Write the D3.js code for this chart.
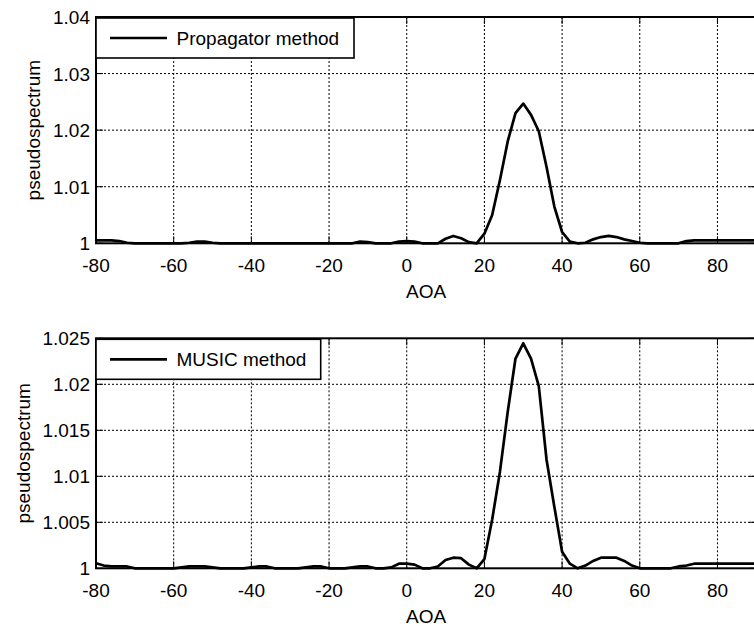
<!DOCTYPE html>
<html><head><meta charset="utf-8">
<script src="https://cdn.jsdelivr.net/npm/d3@7"></script>
<style>html,body{margin:0;padding:0;background:#fff;overflow:hidden}</style>
</head><body>
<script>
// ---- data ----
const aoa = [-80,-78,-76,-74,-72,-70,-68,-66,-64,-62,-60,-58,-56,-54,-52,-50,-48,-46,-44,-42,-40,-38,-36,-34,-32,-30,-28,-26,-24,-22,-20,-18,-16,-14,-12,-10,-8,-6,-4,-2,0,2,4,6,8,10,12,14,16,18,20,22,24,26,28,30,32,34,36,38,40,42,44,46,48,50,52,54,56,58,60,62,64,66,68,70,72,74,76,78,80,82,84,86,88,90];
const propagator = [1.0005,1.0005,1.0005,1.0004,1.0001,1.0,1.0,1.0,1.0,1.0,1.0,1.0,1.0001,1.0003,1.0003,1.0001,1.0,1.0,1.0,1.0,1.0,1.0,1.0,1.0,1.0,1.0,1.0,1.0,1.0,1.0,1.0,1.0,1.0,1.0,1.0003,1.0002,1.0,1.0,1.0,1.0003,1.0004,1.0003,1.0,1.0,1.0,1.0008,1.0013,1.0009,1.0002,1.0,1.0017,1.0050,1.0112,1.0180,1.0230,1.0247,1.0227,1.0198,1.0135,1.0065,1.0020,1.0003,1.0,1.0001,1.0007,1.0011,1.0013,1.0011,1.0007,1.0004,1.0001,1.0,1.0,1.0,1.0,1.0,1.0004,1.0005,1.0005,1.0005,1.0005,1.0005,1.0005,1.0005,1.0005,1.0005];
const music = [1.00055,1.0003,1.0002,1.0002,1.0002,1.0,1.0,1.0,1.0,1.0,1.0,1.0001,1.0002,1.0002,1.0002,1.0001,1.0,1.0,1.0,1.0,1.0001,1.0002,1.0002,1.0,1.0,1.0,1.0,1.0001,1.0002,1.0002,1.0,1.0,1.0,1.0001,1.0002,1.0002,1.0,1.0,1.0001,1.0005,1.0005,1.0004,1.0,1.0,1.0002,1.0009,1.00115,1.0011,1.0004,1.0,1.0010,1.0053,1.0105,1.0170,1.0228,1.02446,1.0228,1.0198,1.0118,1.0067,1.0018,1.0005,1.0,1.0003,1.0008,1.00115,1.00115,1.00115,1.0008,1.0003,1.0,1.0,1.0,1.0,1.0,1.0002,1.0003,1.0005,1.0005,1.0005,1.0005,1.0005,1.0005,1.0005,1.0005,1.0005];
const xTicks = [-80,-60,-40,-20,0,20,40,60,80];
const xTickLabels = ["-80","-60","-40","-20","0","20","40","60","80"];
const yTicksTop = [1,1.01,1.02,1.03,1.04];
const yTickLabelsTop = ["1","1.01","1.02","1.03","1.04"];
const yTicksBottom = [1,1.005,1.01,1.015,1.02,1.025];
const yTickLabelsBottom = ["1","1.005","1.01","1.015","1.02","1.025"];
const legendTop = "Propagator method";
const legendBottom = "MUSIC method";
const xLabel = "AOA";
const yLabel = "pseudospectrum";

// ---- drawing ----
const W = 754, H = 626;
const FONT = "'Liberation Sans', Arial, Helvetica, sans-serif";
const FS = 19;
const svg = d3.select("body").append("svg").attr("width", W).attr("height", H)
  .style("font-family", FONT);

function panel(cfg) {
  const x = d3.scaleLinear().domain([-80, 90]).range([cfg.left, cfg.right]);
  const y = d3.scaleLinear().domain(cfg.yDomain).range([cfg.bottom, cfg.top]);
  const g = svg.append("g");
  const tickLen = 7;

  // grid
  g.selectAll(".vg").data(xTicks.slice(1)).enter().append("line")
    .attr("x1", d => x(d)).attr("x2", d => x(d))
    .attr("y1", cfg.top).attr("y2", cfg.bottom)
    .attr("stroke", "#000").attr("stroke-width", 1).attr("stroke-dasharray", "2,2");
  g.selectAll(".hg").data(cfg.yTicks.slice(1, -1)).enter().append("line")
    .attr("x1", cfg.left).attr("x2", cfg.right)
    .attr("y1", d => y(d)).attr("y2", d => y(d))
    .attr("stroke", "#000").attr("stroke-width", 1).attr("stroke-dasharray", "2,2");

  // ticks (inward, both sides)
  xTicks.forEach(t => {
    g.append("line").attr("x1", x(t)).attr("x2", x(t)).attr("y1", cfg.bottom).attr("y2", cfg.bottom - tickLen)
      .attr("stroke", "#000").attr("stroke-width", 1);
    g.append("line").attr("x1", x(t)).attr("x2", x(t)).attr("y1", cfg.top).attr("y2", cfg.top + tickLen)
      .attr("stroke", "#000").attr("stroke-width", 1);
  });
  cfg.yTicks.forEach(t => {
    g.append("line").attr("x1", cfg.left).attr("x2", cfg.left + tickLen).attr("y1", y(t)).attr("y2", y(t))
      .attr("stroke", "#000").attr("stroke-width", 1);
    g.append("line").attr("x1", cfg.right).attr("x2", cfg.right - tickLen).attr("y1", y(t)).attr("y2", y(t))
      .attr("stroke", "#000").attr("stroke-width", 1);
  });

  // curve
  const line = d3.line().x((d, i) => x(aoa[i])).y(d => y(d));
  g.append("path").datum(cfg.values).attr("d", line)
    .attr("fill", "none").attr("stroke", "#000").attr("stroke-width", 2.7)
    .attr("stroke-linejoin", "round");

  // box
  g.append("rect").attr("x", cfg.left).attr("y", cfg.top)
    .attr("width", cfg.right - cfg.left).attr("height", cfg.bottom - cfg.top)
    .attr("fill", "none").attr("stroke", "#000").attr("stroke-width", 2);

  // tick labels
  g.selectAll(".xl").data(xTicks).enter().append("text")
    .attr("x", d => x(d)).attr("y", cfg.bottom + 28.5)
    .attr("text-anchor", "middle").attr("font-size", FS).text((d, i) => xTickLabels[i]);
  g.selectAll(".yl").data(cfg.yTicks).enter().append("text")
    .attr("x", cfg.left - 6).attr("y", d => y(d) + 7)
    .attr("text-anchor", "end").attr("font-size", FS).text((d, i) => cfg.yTickLabels[i]);

  // axis labels
  g.append("text").attr("x", (cfg.left + cfg.right) / 2).attr("y", cfg.bottom + 54.5)
    .attr("text-anchor", "middle").attr("font-size", FS).text(xLabel);
  g.append("text").attr("transform", `translate(${cfg.yLabelX},${(cfg.top + cfg.bottom) / 2}) rotate(-90)`)
    .attr("text-anchor", "middle").attr("font-size", FS).text(yLabel);

  // legend
  const lg = g.append("g");
  lg.append("rect").attr("x", cfg.left).attr("y", cfg.top + 1)
    .attr("width", cfg.legendW).attr("height", cfg.legendH)
    .attr("fill", "#fff").attr("stroke", "#000").attr("stroke-width", 1.6);
  const ly = cfg.top + 1 + cfg.legendH / 2;
  lg.append("line").attr("x1", cfg.left + 14).attr("x2", cfg.left + 71)
    .attr("y1", ly).attr("y2", ly).attr("stroke", "#000").attr("stroke-width", 2.7);
  lg.append("text").attr("x", cfg.left + 80.5).attr("y", ly + 7)
    .attr("font-size", FS).text(cfg.legend);
}

panel({ left: 96, right: 756.3, top: 17, bottom: 243.3, yDomain: [1, 1.04],
  yTicks: yTicksTop, yTickLabels: yTickLabelsTop, values: propagator, legend: legendTop,
  legendW: 258, legendH: 40, yLabelX: 39.5 });
panel({ left: 96, right: 756.3, top: 338.3, bottom: 568.3, yDomain: [1, 1.025],
  yTicks: yTicksBottom, yTickLabels: yTickLabelsBottom, values: music, legend: legendBottom,
  legendW: 224.7, legendH: 40, yLabelX: 29.5 });
</script>
</body></html>
